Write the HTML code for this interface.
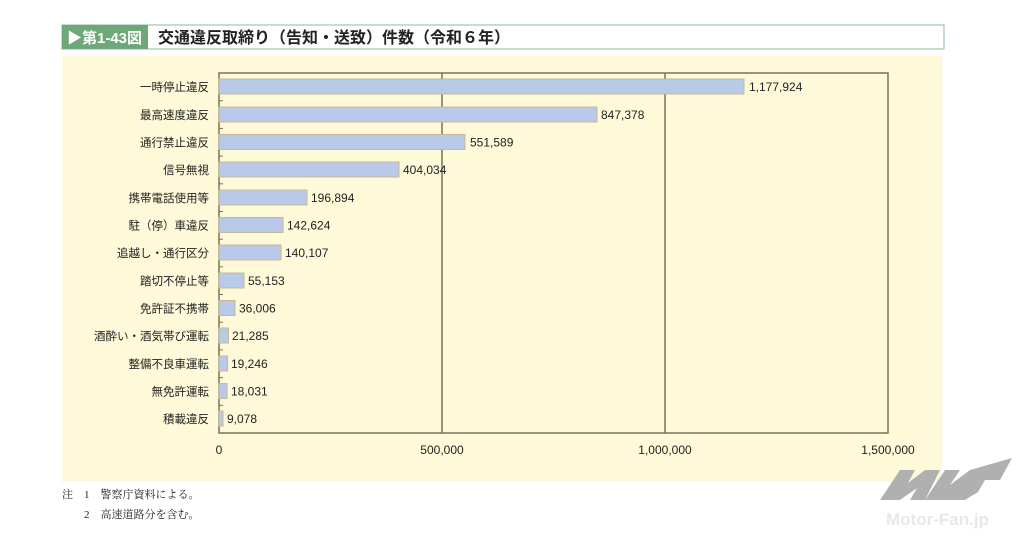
<!DOCTYPE html>
<html><head><meta charset="utf-8"><style>
body{margin:0;background:#fff;width:1024px;height:537px;overflow:hidden;}
svg{display:block;font-family:"Liberation Sans","Noto Sans CJK JP",sans-serif;}
</style></head><body>
<svg width="1024" height="537" viewBox="0 0 1024 537">
<rect x="62" y="25" width="882" height="24" fill="#fff" stroke="#8fb894" stroke-width="1"/>
<rect x="62" y="25" width="86" height="24" fill="#6fa878"/>
<text x="67" y="43" font-size="15" font-weight="bold" fill="#fff">▶第1-43図</text>
<text x="158" y="43" font-size="16" font-weight="bold" fill="#222">交通違反取締り（告知・送致）件数（令和６年）</text>
<rect x="62" y="56" width="880" height="426" fill="#fef9d8"/>
<g stroke="#7a7458" stroke-width="1.5" fill="none">
<rect x="219" y="73" width="669" height="360"/>
<line x1="442" y1="73" x2="442" y2="433"/>
<line x1="665" y1="73" x2="665" y2="433"/>
</g>
<g stroke="#7a7458" stroke-width="1">
<line x1="219" y1="100.7" x2="223" y2="100.7"/><line x1="219" y1="128.4" x2="223" y2="128.4"/>
<line x1="219" y1="156.1" x2="223" y2="156.1"/><line x1="219" y1="183.8" x2="223" y2="183.8"/>
<line x1="219" y1="211.5" x2="223" y2="211.5"/><line x1="219" y1="239.2" x2="223" y2="239.2"/>
<line x1="219" y1="266.8" x2="223" y2="266.8"/><line x1="219" y1="294.5" x2="223" y2="294.5"/>
<line x1="219" y1="322.2" x2="223" y2="322.2"/><line x1="219" y1="349.9" x2="223" y2="349.9"/>
<line x1="219" y1="377.6" x2="223" y2="377.6"/><line x1="219" y1="405.3" x2="223" y2="405.3"/>
</g>
<g fill="#b9c9e9" stroke="#c9b98e" stroke-width="1">
<rect x="219" y="79" width="525" height="15"/>
<rect x="219" y="107" width="378" height="15"/>
<rect x="219" y="134.5" width="246" height="15"/>
<rect x="219" y="162" width="180" height="15"/>
<rect x="219" y="190" width="88" height="15"/>
<rect x="219" y="217.5" width="64" height="15"/>
<rect x="219" y="245" width="62" height="15"/>
<rect x="219" y="273" width="25" height="15"/>
<rect x="219" y="300.5" width="16" height="15"/>
<rect x="219" y="328" width="9.5" height="15"/>
<rect x="219" y="356" width="8.6" height="15"/>
<rect x="219" y="383.5" width="8" height="15"/>
<rect x="219" y="411" width="4" height="15"/>
</g>
<g font-size="12" fill="#222">
<text x="749" y="91">1,177,924</text>
<text x="601" y="119">847,378</text>
<text x="470" y="146.5">551,589</text>
<text x="403" y="174">404,034</text>
<text x="311" y="202">196,894</text>
<text x="287" y="229.5">142,624</text>
<text x="285" y="257">140,107</text>
<text x="248" y="285">55,153</text>
<text x="239" y="312.5">36,006</text>
<text x="232" y="340">21,285</text>
<text x="231" y="368">19,246</text>
<text x="231" y="395.5">18,031</text>
<text x="227" y="423">9,078</text>
</g>
<g font-size="11.5" fill="#222" text-anchor="end">
<text x="209" y="91">一時停止違反</text>
<text x="209" y="119">最高速度違反</text>
<text x="209" y="146.5">通行禁止違反</text>
<text x="209" y="174">信号無視</text>
<text x="209" y="202">携帯電話使用等</text>
<text x="209" y="229.5">駐（停）車違反</text>
<text x="209" y="257">追越し・通行区分</text>
<text x="209" y="285">踏切不停止等</text>
<text x="209" y="312.5">免許証不携帯</text>
<text x="209" y="340">酒酔い・酒気帯び運転</text>
<text x="209" y="368">整備不良車運転</text>
<text x="209" y="395.5">無免許運転</text>
<text x="209" y="423">積載違反</text>
</g>
<g font-size="12" fill="#222" text-anchor="middle">
<text x="219" y="454">0</text><text x="442" y="454">500,000</text>
<text x="665" y="454">1,000,000</text><text x="888" y="454">1,500,000</text>
</g>
<g font-family="'Liberation Serif','Noto Serif CJK SC',serif" font-size="11" fill="#222">
<text x="62" y="498">注　1　警察庁資料による。</text>
<text x="62" y="518">　　2　高速道路分を含む。</text>
</g>
<g fill="#b0b0b0">
<polygon points="880,500 900,470 915,470 908,483 925,470 940,470 925,500 910,500 917,488 900,500"/>
<polygon points="925,500 945,470 960,470 950,485 970,470 1012,458 1000,480 985,480 978,492 965,500"/>
</g>
<text x="886" y="525" font-size="17" font-weight="bold" fill="#e8e8e8">Motor-Fan.jp</text>
</svg>
</body></html>
